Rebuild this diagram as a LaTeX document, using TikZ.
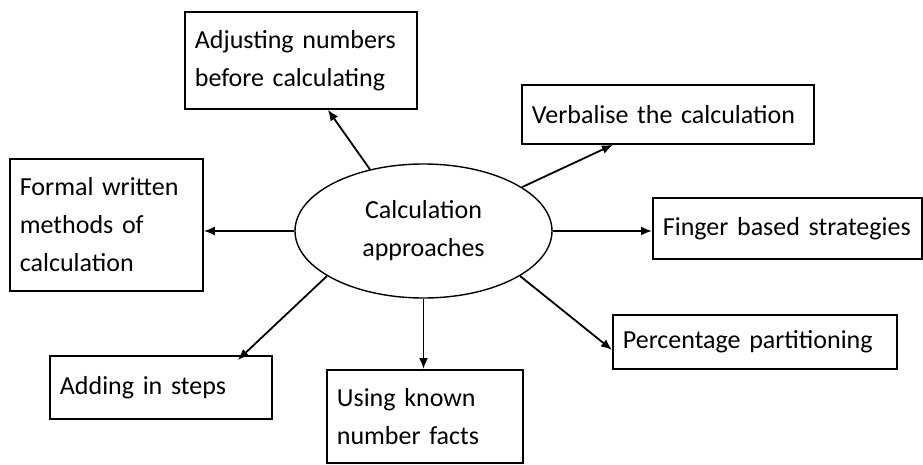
\documentclass[tikz,border=0pt]{standalone}
\usepackage{fontspec}
\setmainfont{Carlito}[WordSpace=0.85]
\usetikzlibrary{arrows.meta,shapes.geometric}
\begin{document}
\begin{tikzpicture}[x=1pt,y=-1pt,
  every node/.style={font=\fontsize{26}{38}\selectfont},
  box/.style={draw,line width=1.8pt,anchor=north west,inner xsep=10pt,inner ysep=0pt,align=left},
  hub/.style={draw,ellipse,line width=1.4pt,minimum width=257pt,minimum height=134pt,inner sep=0pt,align=center},
  arr/.style={line width=1.8pt,-{Latex[length=11pt,width=9pt]}}]
\useasboundingbox (0,0) rectangle (923,465);
\node[hub] (c) at (423.5,231) {Calculation\\approaches};
\node[box,minimum width=232pt,minimum height=97pt,text width=212pt] (adj) at (184,11) {Adjusting numbers\\before calculating};
\node[box,minimum width=193pt,minimum height=132pt,text width=173pt] (formal) at (9,158) {Formal written\\methods of\\calculation};
\node[box,minimum width=292pt,minimum height=59pt,text width=272pt] (verb) at (521,84) {Verbalise the calculation};
\node[box,minimum width=269pt,minimum height=61pt,text width=249pt] (finger) at (652,197) {Finger based strategies};
\node[box,minimum width=284pt,minimum height=54pt,text width=264pt] (pct) at (612,314) {Percentage partitioning};
\node[box,minimum width=222pt,minimum height=63pt,text width=202pt] (add) at (49,355) {Adding in steps};
\node[box,minimum width=196pt,minimum height=93pt,text width=176pt] (using) at (326,369) {Using known\\number facts};
\draw[arr] (c.131.9) -- ([xshift=27pt]adj.south);
\draw[arr] (c.west) -- (c.west -| formal.east);
\draw[arr] (c.24.1) -- ([xshift=-55pt]verb.south);
\draw[arr] (c.east) -- (c.east -| finger.west);
\draw[arr] (c.-25.7) -- ([yshift=-8pt]pct.west);
\draw[arr] (c.south) -- (c.south |- using.north);
\draw[arr] (c.205.7) -- ([xshift=77pt,yshift=-5pt]add.north);
\end{tikzpicture}
\end{document}
